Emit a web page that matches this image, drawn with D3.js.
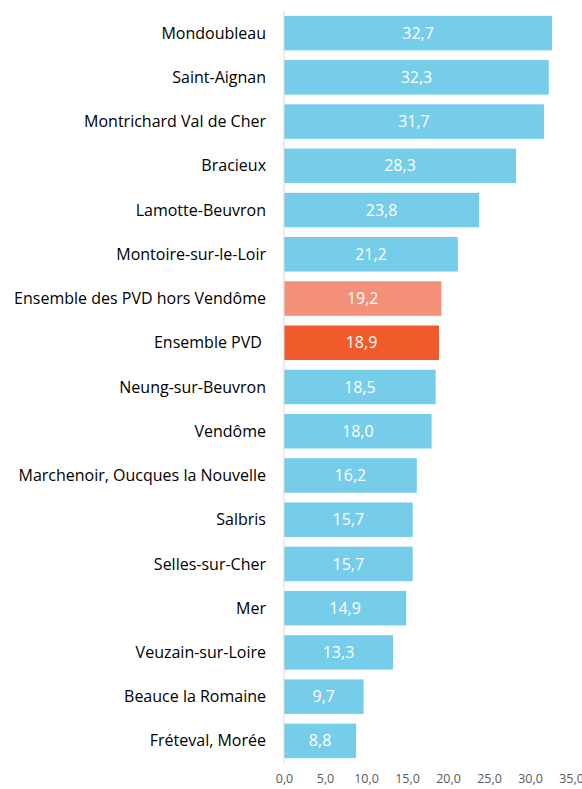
<!DOCTYPE html>
<html>
<head>
<meta charset="utf-8">
<script src="https://d3js.org/d3.v7.min.js"></script>
<style>
  body { margin: 0; background: #fff; }
  .cat text { font-family: "Open Sans", sans-serif; font-size: 16px; fill: #000; }
  .val { font-family: "Open Sans", sans-serif; font-size: 16px; fill: #fff; }
  .x.axis text { font-family: "Open Sans", sans-serif; font-size: 12.5px; fill: #595959; }
</style>
</head>
<body>
<div id="chart"></div>
<script>
// categories, top to bottom
var communes = ["Mondoubleau", "Saint-Aignan", "Montrichard Val de Cher", "Bracieux",
  "Lamotte-Beuvron", "Montoire-sur-le-Loir", "Ensemble des PVD hors Vendôme", "Ensemble PVD ",
  "Neung-sur-Beuvron", "Vendôme", "Marchenoir, Oucques la Nouvelle", "Salbris",
  "Selles-sur-Cher", "Mer", "Veuzain-sur-Loire", "Beauce la Romaine", "Fréteval, Morée"];
var values = [32.7, 32.3, 31.7, 28.3, 23.8, 21.2, 19.2, 18.9, 18.5, 18.0, 16.2, 15.7, 15.7, 14.9, 13.3, 9.7, 8.8];
var ticks = [0, 5, 10, 15, 20, 25, 30, 35];

var canvas_width = 582, canvas_height = 789;
var plotLeft = 284, plotRight = 571, plotTop = 11, plotBottom = 763;

var fr = function(v) { return v.toFixed(1).replace(".", ","); };

function barColor(name) {
  if (name === "Ensemble des PVD hors Vendôme") return "#F4907A";
  if (name === "Ensemble PVD ") return "#F15A2B";
  return "#75CDEA";
}

var svg = d3.select("#chart").append("svg")
    .attr("width", canvas_width)
    .attr("height", canvas_height);

var x = d3.scaleLinear().domain([0, 35]).range([plotLeft, plotRight]);
var y = d3.scaleBand().domain(communes).range([plotTop, plotBottom]).paddingInner(0.22).paddingOuter(0.11);

// bars
svg.selectAll("rect.bar")
    .data(communes)
    .enter()
    .append("rect")
    .attr("class", "bar")
    .attr("x", x(0))
    .attr("y", function(d) { return y(d); })
    .attr("width", function(d, i) { return x(values[i]) - x(0); })
    .attr("height", y.bandwidth())
    .attr("fill", barColor);

// value labels
svg.selectAll("text.val")
    .data(communes)
    .enter()
    .append("text")
    .attr("class", "val")
    .attr("x", function(d, i) { return (x(0) + x(values[i])) / 2; })
    .attr("y", function(d) { return y(d) + y.bandwidth() / 2; })
    .attr("dy", "0.35em")
    .attr("text-anchor", "middle")
    .text(function(d, i) { return fr(values[i]); });

// category labels
var cat = svg.append("g").attr("class", "cat");
cat.selectAll("text")
    .data(communes)
    .enter()
    .append("text")
    .attr("x", 266)
    .attr("y", function(d) { return y(d) + y.bandwidth() / 2; })
    .attr("dy", "0.35em")
    .attr("text-anchor", "end")
    .style("white-space", "pre")
    .text(function(d) { return d; });

// vertical axis line
svg.append("line")
    .attr("x1", x(0)).attr("x2", x(0))
    .attr("y1", plotTop).attr("y2", plotBottom)
    .attr("stroke", "#D9D9D9")
    .attr("stroke-width", 1);

// x axis (labels only)
var xAxis = d3.axisBottom(x).tickValues(ticks).tickFormat(fr).tickSize(0).tickPadding(0);
svg.append("g")
    .attr("class", "x axis")
    .attr("transform", "translate(0," + 774 + ")")
    .call(xAxis)
    .call(function(g) { g.select(".domain").remove(); });
</script>
</body>
</html>
